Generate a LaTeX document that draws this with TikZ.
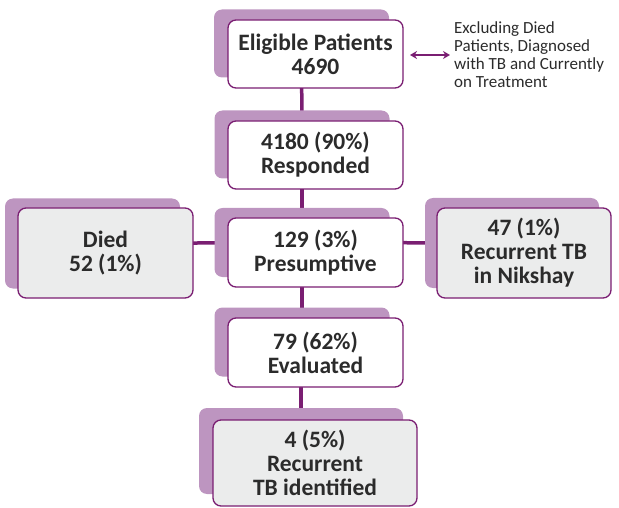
\documentclass[tikz,border=0pt]{standalone}
\usepackage{fontspec}
\setmainfont{Carlito}
\usetikzlibrary{arrows.meta,backgrounds}
\definecolor{shad}{HTML}{BD95C0}
\definecolor{pur}{HTML}{7A1E72}
\definecolor{greyfill}{HTML}{EBECEC}
\definecolor{txt}{HTML}{2B2B2B}
\tikzset{
  front/.style={draw=pur, line width=1.3pt, rounded corners=8pt, fill=white, align=center,
    text=txt, font=\fontsize{23.5}{24}\selectfont\bfseries, inner sep=0pt},
  greybox/.style={front, fill=greyfill},
  shadowbox/.style={fill=shad, rounded corners=8pt, inner sep=0pt},
  conn/.style={draw=pur, line width=3.5pt},
}
\begin{document}
\begin{tikzpicture}[x=1pt,y=-1pt]
\useasboundingbox (0,0) rectangle (619,508);
% shadows
\node[shadowbox, minimum width=175pt, minimum height=68pt] (elig-sh) at (301.5,43.5) {};
\node[shadowbox, minimum width=175pt, minimum height=68pt] (resp-sh) at (302,144.5) {};
\node[shadowbox, minimum width=175pt, minimum height=69pt] (pres-sh) at (302,242.5) {};
\node[shadowbox, minimum width=175pt, minimum height=90pt] (died-sh) at (92.5,243.5) {};
\node[shadowbox, minimum width=174pt, minimum height=90pt] (niks-sh) at (512,243) {};
\node[shadowbox, minimum width=175pt, minimum height=69pt] (eval-sh) at (302,342) {};
\node[shadowbox, minimum width=204pt, minimum height=86pt] (rec-sh) at (301,451) {};
% fronts
\node[front, minimum width=175pt, minimum height=68pt] (elig) at (315.5,54) {Eligible Patients\\4690};
\node[front, minimum width=175pt, minimum height=68pt] (resp) at (315.5,155) {4180 (90\%)\\Responded};
\node[front, minimum width=175pt, minimum height=69pt] (pres) at (315.5,252.5) {129 (3\%)\\Presumptive};
\node[greybox, minimum width=175pt, minimum height=90pt] (died) at (105.5,253) {Died\\52 (1\%)};
\node[greybox, minimum width=174pt, minimum height=90pt] (niks) at (524,253) {47 (1\%)\\Recurrent TB\\in Nikshay};
\node[front, minimum width=175pt, minimum height=69pt] (eval) at (315.5,352.5) {79 (62\%)\\Evaluated};
\node[greybox, minimum width=204pt, minimum height=86pt] (rec) at (315,463) {4 (5\%)\\Recurrent\\TB identified};
% note
\node[anchor=north west, align=left, text=txt, font=\fontsize{17}{18}\selectfont, inner sep=0pt] (note) at (454,21) {Excluding Died\\Patients, Diagnosed\\with TB and Currently\\on Treatment};
\coordinate (arrL) at (410,55);
\coordinate (arrR) at (450,55);
\draw[draw=pur, line width=2pt, {Stealth[length=7pt,width=8pt]}-{Stealth[length=7pt,width=8pt]}] (arrL) -- (arrR);
% connectors
\begin{scope}[on background layer]
\draw[conn] (elig-sh.center) -- (resp-sh.center);
\draw[conn] (resp-sh.center) -- (pres-sh.center);
\draw[conn] (pres-sh.center) -- (eval-sh.center);
\draw[conn] (eval-sh.center) -- (rec-sh.center |- eval-sh.center) -- (rec-sh.center);
\draw[conn] (died-sh.center) -- (pres-sh.center);
\draw[conn] (pres-sh.center) -- (niks-sh.center);
\end{scope}
\end{tikzpicture}
\end{document}
